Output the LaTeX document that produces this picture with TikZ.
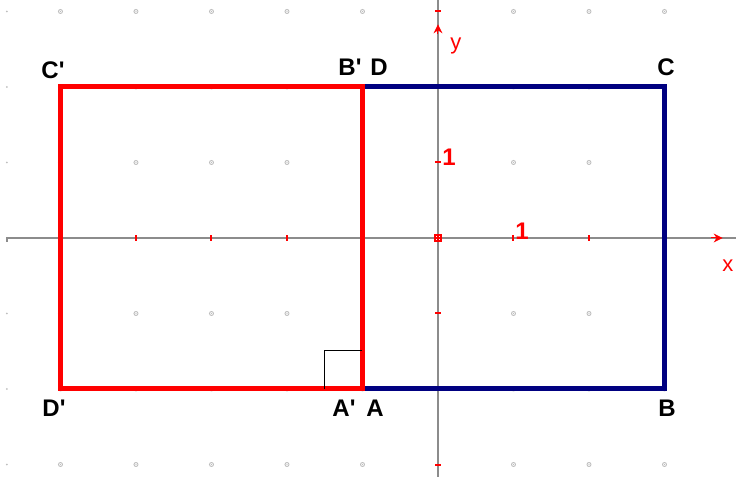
\documentclass[tikz,border=0pt]{standalone}
\usepackage{fontspec}
\newfontfamily\labfont{Liberation Sans}
\usetikzlibrary{arrows.meta}
\definecolor{axisgray}{RGB}{140,140,140}
\definecolor{dotgray}{RGB}{190,190,190}
\definecolor{navyblue}{RGB}{0,0,128}
\definecolor{pred}{RGB}{255,0,0}
\tikzset{
  vlabel/.style={inner sep=0pt, font=\labfont\bfseries\fontsize{24}{24}\selectfont, text=black},
  ticklabel/.style={inner sep=0pt, font=\labfont\bfseries\fontsize{24}{24}\selectfont, text=pred},
  axlabel/.style={inner sep=0pt, font=\labfont\fontsize{22}{22}\selectfont, text=pred},
  axisline/.style={draw=axisgray, line width=1.8pt},
  tickmark/.style={draw=pred, line width=2pt},
  gdot/.style={draw=dotgray, line width=0.9pt},
  redside/.style={draw=pred, line width=5pt},
  blueside/.style={draw=navyblue, line width=5pt},
  rightangle/.style={draw=black, line width=1pt},
}
\begin{document}
\begin{tikzpicture}[x=75.5pt,y=75.5pt]
\useasboundingbox (-5.801,-3.166) rectangle (3.947,3.152);
\clip (-5.801,-3.166) rectangle (3.947,3.152);
% grid dots
\foreach \i in {-5,...,3}{
  \foreach \j in {-3,...,3}{
    \ifnum\i=0\else\ifnum\j=0\else
      \draw[gdot] (\i,\j) circle (2pt);
      \fill[dotgray] (\i,\j) circle (0.6pt);
    \fi\fi
  }
}
\foreach \j in {-3,-2,-1,1,2,3}{
  \fill[dotgray] (-5.709,\j) circle (1pt);
}
% axes
\draw[axisline] (-5.709,-0.05) -- (-5.709,0) -- (3.947,0);
\draw[axisline] (0,3.152) -- (0,-3.166);
% ticks
\foreach \i in {-5,...,3}{
  \draw[tickmark] (\i,-0.035) -- (\i,0.035);
}
\foreach \j in {-3,...,3}{
  \draw[tickmark] (-0.035,\j) -- (0.035,\j);
}
\draw[tickmark] (-0.035,-0.035) rectangle (0.035,0.035);
% arrowheads
\draw[draw=pred, line width=1pt, -{Stealth[length=9pt,width=9pt,fill=pred]}] (0,2.70) -- (0,2.83);
\draw[draw=pred, line width=1pt, -{Stealth[length=9pt,width=9pt,fill=pred]}] (3.62,0) -- (3.77,0);
% rectangles
\coordinate (A) at (-1,-2);
\coordinate (B) at (3,-2);
\coordinate (C) at (3,2);
\coordinate (D) at (-1,2);
\coordinate (A1) at (-1,-2);
\coordinate (B1) at (-1,2);
\coordinate (C1) at (-5,2);
\coordinate (D1) at (-5,-2);
\draw[blueside, line join=miter] (A) -- (B) -- (C) -- (D);
\draw[redside, line join=miter] (A1) -- (B1) -- (C1) -- (D1) -- cycle;
% right angle mark
\draw[rightangle] ([xshift=-38pt]A1) -- ++(0,38pt) -- ++(38pt,0);
% labels
\node[vlabel] (lC1) at (-5.099,2.225) {C'};
\node[vlabel] (lB1) at (-1.166,2.265) {B'};
\node[vlabel] (lD) at (-0.781,2.265) {D};
\node[vlabel] (lC) at (3.020,2.265) {C};
\node[vlabel] (lD1) at (-5.086,-2.252) {D'};
\node[vlabel] (lA1) at (-1.245,-2.252) {A'};
\node[vlabel] (lA) at (-0.834,-2.252) {A};
\node[vlabel] (lB) at (3.033,-2.252) {B};
\node[ticklabel] (one y) at (0.146,1.073) {1};
\node[ticklabel] (one x) at (1.113,0.093) {1};
\node[axlabel] (ylab) at (0.238,2.543) {y};
\node[axlabel] (xlab) at (3.84,-0.371) {x};
\end{tikzpicture}
\end{document}
